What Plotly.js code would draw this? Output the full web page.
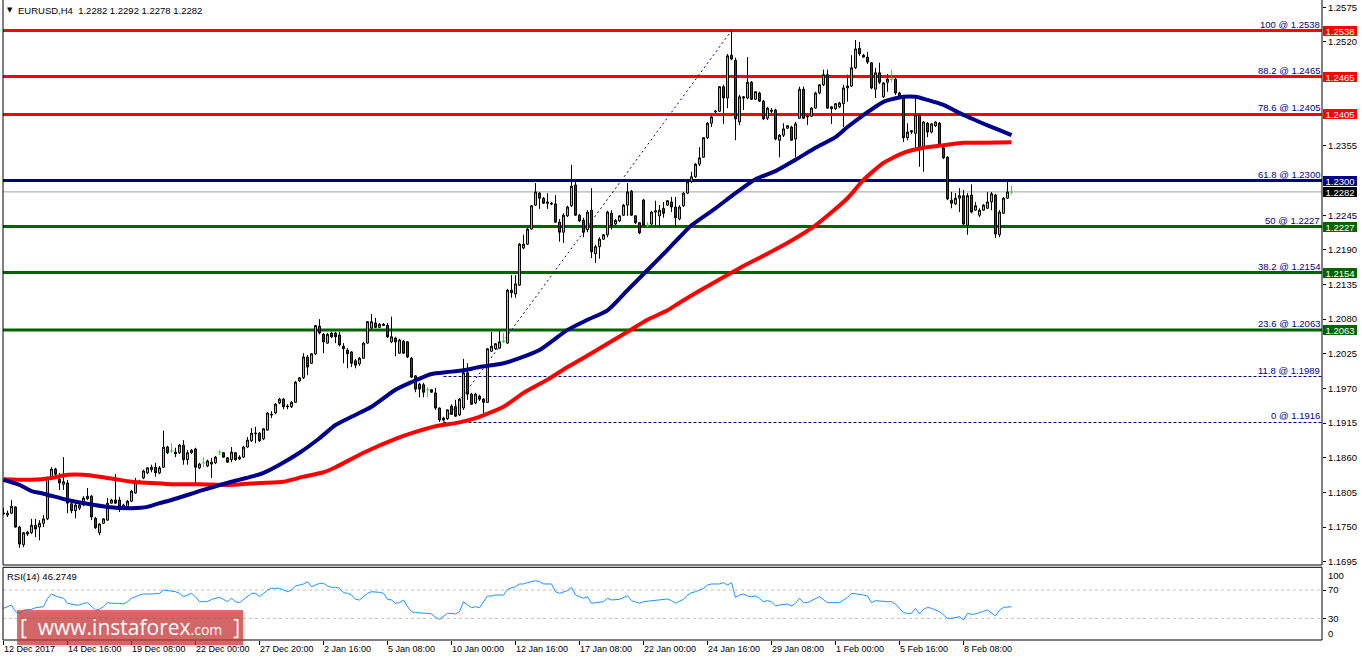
<!DOCTYPE html>
<html><head><meta charset="utf-8">
<script src="https://cdn.plot.ly/plotly-3.0.1.min.js"></script>
<style>html,body{margin:0;padding:0;background:#fff;}#chart{width:1362px;height:661px;}</style>
</head><body><div id="chart"></div>
<script>
// ---------- DATA ----------
const symbolTitle = "EURUSD,H4\u00a0\u00a01.2282 1.2292 1.2278 1.2282";
const rsiTitle = "RSI(14) 46.2749";
const xTickBars = [0,16,32,48,64,80,96,112,128,144,160,176,192,208,224,240];
const xTickLabels = ["12 Dec 2017","14 Dec 16:00","19 Dec 08:00","22 Dec 00:00","27 Dec 20:00","2 Jan 16:00","5 Jan 08:00","10 Jan 00:00","12 Jan 16:00","17 Jan 08:00","22 Jan 00:00","24 Jan 16:00","29 Jan 08:00","1 Feb 00:00","5 Feb 16:00","8 Feb 08:00"];
const priceTicks = [1.2575,1.2520,1.2355,1.2245,1.2190,1.2135,1.2080,1.2025,1.1970,1.1915,1.1860,1.1805,1.1750,1.1695];

const openP = [1.1771,1.1769,1.1772,1.1782,1.1750,1.1722,1.1739,1.1741,1.1753,1.1750,
1.1756,1.1763,1.1830,1.1842,1.1826,1.1818,1.1820,1.1787,1.1776,1.1780,
1.1785,1.1795,1.1799,1.1764,1.1741,1.1756,1.1761,1.1788,1.1793,1.1793,
1.1780,1.1782,1.1791,1.1804,1.1820,1.1828,1.1836,1.1841,1.1845,1.1836,
1.1845,1.1877,1.1871,1.1869,1.1868,1.1880,1.1857,1.1868,1.1874,1.1844,
1.1852,1.1847,1.1850,1.1852,1.1869,1.1868,1.1860,1.1857,1.1868,1.1858,
1.1861,1.1877,1.1887,1.1898,1.1899,1.1890,1.1904,1.1929,1.1931,1.1947,
1.1953,1.1941,1.1941,1.1948,1.1982,1.1987,1.2020,1.2010,1.2025,1.2069,
1.2056,1.2042,1.2058,1.2058,1.2055,1.2037,1.2031,1.2028,1.2014,1.2009,
1.2018,1.2042,1.2066,1.2074,1.2067,1.2072,1.2070,1.2044,1.2050,1.2026,
1.2045,1.2044,1.2018,1.1990,1.1977,1.1976,1.1968,1.1968,1.1963,1.1939,
1.1923,1.1922,1.1942,1.1941,1.1928,1.1939,1.1995,1.1961,1.1947,1.1958,
1.1953,1.1948,1.2029,1.2033,1.2034,1.2045,1.2042,1.2126,1.2120,1.2134,
1.2193,1.2199,1.2223,1.2261,1.2280,1.2272,1.2266,1.2264,1.2263,1.2234,
1.2218,1.2244,1.2260,1.2293,1.2245,1.2237,1.2222,1.2253,1.2184,1.2195,
1.2207,1.2214,1.2248,1.2231,1.2236,1.2245,1.2261,1.2283,1.2244,1.2233,
1.2269,1.2229,1.2231,1.2250,1.2244,1.2256,1.2261,1.2266,1.2258,1.2239,
1.2260,1.2280,1.2298,1.2306,1.2326,1.2337,1.2368,1.2391,1.2409,1.2410,
1.2449,1.2431,1.2499,1.2491,1.2393,1.2433,1.2431,1.2456,1.2429,1.2439,
1.2426,1.2399,1.2412,1.2412,1.2364,1.2372,1.2383,1.2385,1.2366,1.2399,
1.2445,1.2401,1.2402,1.2415,1.2439,1.2452,1.2468,1.2417,1.2414,1.2417,
1.2422,1.2447,1.2450,1.2479,1.2510,1.2499,1.2496,1.2487,1.2445,1.2471,
1.2433,1.2456,1.2461,1.2461,1.2439,1.2431,1.2368,1.2377,1.2375,1.2404,
1.2352,1.2391,1.2377,1.2387,1.2391,1.2352,1.2337,1.2269,1.2263,1.2272,
1.2276,1.2229,1.2277,1.2253,1.2245,1.2253,1.2256,1.2266,1.2277,1.2214,
1.2248,1.2272,1.2282];
const highP = [1.1780,1.1776,1.1793,1.1783,1.1752,1.1742,1.1744,1.1763,1.1763,1.1761,
1.1769,1.1830,1.1845,1.1844,1.1836,1.1861,1.1825,1.1788,1.1788,1.1788,
1.1799,1.1812,1.1801,1.1766,1.1756,1.1764,1.1796,1.1795,1.1834,1.1798,
1.1787,1.1793,1.1809,1.1828,1.1825,1.1841,1.1845,1.1849,1.1852,1.1847,
1.1903,1.1879,1.1883,1.1876,1.1882,1.1888,1.1872,1.1874,1.1876,1.1852,
1.1861,1.1857,1.1860,1.1863,1.1872,1.1869,1.1861,1.1877,1.1869,1.1864,
1.1879,1.1893,1.1907,1.1909,1.1901,1.1907,1.1933,1.1934,1.1947,1.1955,
1.1955,1.1945,1.1950,1.1982,1.1988,1.2026,1.2023,1.2026,1.2071,1.2080,
1.2058,1.2058,1.2060,1.2060,1.2060,1.2042,1.2034,1.2029,1.2017,1.2020,
1.2044,1.2077,1.2088,1.2082,1.2074,1.2074,1.2074,1.2084,1.2052,1.2049,
1.2047,1.2045,1.2020,1.1991,1.1979,1.1979,1.1972,1.1969,1.1971,1.1940,
1.1925,1.1937,1.1945,1.1952,1.1955,1.2017,1.2010,1.1963,1.1963,1.1960,
1.1955,1.2034,1.2060,1.2042,1.2061,1.2058,1.2128,1.2150,1.2150,1.2201,
1.2214,1.2225,1.2261,1.2296,1.2282,1.2274,1.2280,1.2266,1.2277,1.2239,
1.2248,1.2260,1.2325,1.2298,1.2247,1.2241,1.2253,1.2288,1.2198,1.2210,
1.2215,1.2252,1.2253,1.2239,1.2245,1.2263,1.2296,1.2285,1.2245,1.2234,
1.2271,1.2234,1.2252,1.2268,1.2261,1.2266,1.2269,1.2274,1.2274,1.2261,
1.2282,1.2299,1.2314,1.2328,1.2353,1.2369,1.2393,1.2406,1.2412,1.2450,
1.2452,1.2501,1.2538,1.2495,1.2436,1.2434,1.2496,1.2458,1.2442,1.2441,
1.2428,1.2417,1.2415,1.2414,1.2374,1.2391,1.2388,1.2387,1.2393,1.2449,
1.2449,1.2406,1.2417,1.2441,1.2453,1.2476,1.2476,1.2418,1.2423,1.2425,
1.2452,1.2468,1.2499,1.2523,1.2520,1.2501,1.2504,1.2488,1.2479,1.2487,
1.2456,1.2469,1.2476,1.2463,1.2441,1.2433,1.2391,1.2380,1.2431,1.2407,
1.2394,1.2393,1.2391,1.2394,1.2393,1.2353,1.2339,1.2282,1.2280,1.2288,
1.2285,1.2280,1.2294,1.2266,1.2256,1.2263,1.2282,1.2282,1.2279,1.2253,
1.2274,1.2298,1.2292];
const lowP = [1.1769,1.1766,1.1771,1.1749,1.1717,1.1718,1.1736,1.1739,1.1734,1.1729,
1.1750,1.1761,1.1828,1.1831,1.1809,1.1809,1.1772,1.1772,1.1764,1.1777,
1.1783,1.1793,1.1761,1.1747,1.1737,1.1755,1.1760,1.1787,1.1787,1.1774,
1.1779,1.1780,1.1790,1.1803,1.1818,1.1826,1.1834,1.1837,1.1830,1.1834,
1.1844,1.1866,1.1868,1.1861,1.1866,1.1849,1.1849,1.1866,1.1820,1.1842,
1.1845,1.1845,1.1828,1.1850,1.1864,1.1860,1.1852,1.1853,1.1855,1.1857,
1.1860,1.1876,1.1885,1.1883,1.1885,1.1888,1.1903,1.1923,1.1929,1.1945,
1.1937,1.1937,1.1939,1.1947,1.1980,1.1985,1.1991,1.2009,1.2023,1.2056,
1.2026,1.2041,1.2050,1.2042,1.2037,1.2010,1.2002,1.2004,1.2002,1.2006,
1.2017,1.2041,1.2064,1.2066,1.2066,1.2069,1.2050,1.2042,1.2021,1.2025,
1.2025,1.2018,1.1987,1.1964,1.1956,1.1956,1.1956,1.1963,1.1936,1.1917,
1.1918,1.1920,1.1928,1.1925,1.1926,1.1936,1.1952,1.1944,1.1945,1.1950,
1.1931,1.1947,1.2028,1.2031,1.2033,1.2042,1.2041,1.2114,1.2114,1.2133,
1.2191,1.2198,1.2222,1.2260,1.2255,1.2263,1.2255,1.2261,1.2233,1.2203,
1.2201,1.2242,1.2258,1.2244,1.2234,1.2210,1.2218,1.2177,1.2169,1.2176,
1.2206,1.2210,1.2222,1.2229,1.2234,1.2244,1.2244,1.2244,1.2231,1.2215,
1.2228,1.2226,1.2229,1.2229,1.2225,1.2241,1.2260,1.2250,1.2225,1.2237,
1.2258,1.2279,1.2296,1.2304,1.2323,1.2336,1.2366,1.2385,1.2407,1.2409,
1.2390,1.2415,1.2491,1.2364,1.2388,1.2412,1.2429,1.2428,1.2428,1.2425,
1.2396,1.2396,1.2407,1.2364,1.2337,1.2369,1.2382,1.2363,1.2337,1.2398,
1.2398,1.2388,1.2401,1.2414,1.2437,1.2450,1.2414,1.2390,1.2412,1.2415,
1.2385,1.2425,1.2449,1.2477,1.2498,1.2495,1.2485,1.2445,1.2431,1.2453,
1.2431,1.2441,1.2456,1.2436,1.2433,1.2361,1.2364,1.2374,1.2352,1.2322,
1.2314,1.2369,1.2375,1.2385,1.2355,1.2334,1.2269,1.2256,1.2261,1.2250,
1.2229,1.2214,1.2248,1.2252,1.2242,1.2252,1.2255,1.2253,1.2209,1.2210,
1.2247,1.2271,1.2278];
const closeP = [1.1772,1.1772,1.1783,1.1750,1.1723,1.1741,1.1742,1.1753,1.1747,1.1756,
1.1763,1.1828,1.1842,1.1834,1.1820,1.1822,1.1788,1.1776,1.1785,1.1785,
1.1796,1.1799,1.1766,1.1749,1.1755,1.1763,1.1788,1.1793,1.1788,1.1782,
1.1785,1.1791,1.1807,1.1822,1.1823,1.1839,1.1844,1.1845,1.1836,1.1844,
1.1877,1.1868,1.1871,1.1866,1.1880,1.1857,1.1868,1.1872,1.1845,1.1850,
1.1852,1.1855,1.1853,1.1861,1.1869,1.1861,1.1853,1.1869,1.1857,1.1861,
1.1877,1.1888,1.1899,1.1899,1.1887,1.1906,1.1931,1.1928,1.1945,1.1953,
1.1941,1.1942,1.1948,1.1980,1.1987,1.2020,1.2004,1.2025,1.2070,1.2058,
1.2044,1.2056,1.2052,1.2052,1.2039,1.2033,1.2025,1.2010,1.2007,1.2018,
1.2042,1.2076,1.2076,1.2067,1.2072,1.2070,1.2052,1.2052,1.2044,1.2047,
1.2026,1.2020,1.1988,1.1969,1.1969,1.1964,1.1968,1.1964,1.1939,1.1920,
1.1920,1.1936,1.1929,1.1926,1.1953,1.1995,1.1961,1.1945,1.1961,1.1953,
1.1948,1.2033,1.2037,1.2041,1.2044,1.2045,1.2126,1.2122,1.2136,1.2199,
1.2199,1.2223,1.2260,1.2282,1.2272,1.2264,1.2264,1.2263,1.2234,1.2218,
1.2245,1.2258,1.2291,1.2245,1.2236,1.2218,1.2250,1.2187,1.2195,1.2207,
1.2214,1.2250,1.2228,1.2237,1.2244,1.2261,1.2282,1.2245,1.2233,1.2217,
1.2229,1.2229,1.2250,1.2252,1.2253,1.2248,1.2268,1.2258,1.2241,1.2258,
1.2280,1.2298,1.2306,1.2326,1.2336,1.2368,1.2391,1.2401,1.2410,1.2449,
1.2431,1.2498,1.2493,1.2398,1.2433,1.2431,1.2456,1.2429,1.2441,1.2426,
1.2398,1.2415,1.2410,1.2366,1.2372,1.2382,1.2387,1.2364,1.2390,1.2445,
1.2399,1.2402,1.2415,1.2439,1.2452,1.2468,1.2415,1.2414,1.2422,1.2423,
1.2447,1.2450,1.2479,1.2509,1.2501,1.2496,1.2488,1.2447,1.2471,1.2456,
1.2455,1.2461,1.2461,1.2439,1.2434,1.2368,1.2377,1.2379,1.2404,1.2352,
1.2393,1.2377,1.2390,1.2393,1.2356,1.2336,1.2271,1.2264,1.2272,1.2276,
1.2231,1.2276,1.2250,1.2260,1.2253,1.2261,1.2266,1.2279,1.2215,1.2250,
1.2272,1.2282,1.2282];

// moving averages at sample bars
const maBlueBar = [0,4,7,10,16,21,26,32,36,39,42,50,57,62,65,69,74,79,83,87,92,98,102,107,111,115,119,125,129,134,141,146,151,156,161,166,169,172,178,183,188,193,198,203,208,211,215,220,225,228,231,235,240,244,249,252];
const maBlueVal = [1.1825,1.1817,1.1807,1.1803,1.1793,1.1787,1.1782,1.1780,1.1782,1.1788,1.1793,1.1809,1.1822,1.1830,1.1836,1.1849,1.1868,1.1891,1.1912,1.1925,1.1941,1.1968,1.1980,1.1993,1.1996,1.1999,1.2004,1.2010,1.2018,1.2031,1.2063,1.2079,1.2094,1.2126,1.2158,1.2190,1.2210,1.2229,1.2256,1.2280,1.2302,1.2315,1.2333,1.2352,1.2369,1.2385,1.2404,1.2425,1.2433,1.2433,1.2428,1.2420,1.2404,1.2393,1.2380,1.2372];
const maRedBar = [0,7,12,16,20,24,28,32,37,42,49,57,64,70,75,80,83,90,98,103,108,113,118,125,130,136,141,147,156,161,166,169,174,184,194,203,211,215,220,225,230,235,240,245,252];
const maRedVal = [1.1826,1.1825,1.1828,1.1833,1.1833,1.1830,1.1826,1.1822,1.1820,1.1818,1.1818,1.1817,1.1820,1.1822,1.1830,1.1837,1.1845,1.1868,1.1890,1.1901,1.1910,1.1915,1.1923,1.1941,1.1963,1.1984,1.2004,1.2026,1.2060,1.2079,1.2094,1.2106,1.2125,1.2161,1.2194,1.2229,1.2272,1.2301,1.2328,1.2344,1.2352,1.2356,1.2360,1.2360,1.2361];

// RSI(14) read at sample bars
const rsiBar = [0,1,2,3,4,5,7,8,10,11,12,13,14,15,16,18,19,20,21,22,23,24,25,26,27,29,30,31,32,34,35,37,38,39,40,41,42,43,44,45,46,47,48,49,50,51,52,54,55,56,57,58,59,60,61,62,63,64,65,66,67,69,70,71,72,73,74,75,76,77,78,79,80,81,82,83,84,85,86,87,88,89,90,91,92,93,94,95,96,97,98,99,100,101,102,103,105,106,107,108,109,110,111,112,113,114,115,116,117,118,119,121,122,123,125,126,127,128,129,130,131,133,134,135,137,138,139,140,141,142,143,144,145,146,147,148,150,151,152,154,156,157,159,160,162,163,165,166,167,168,170,171,172,173,175,176,177,179,180,181,182,183,184,185,186,187,188,189,190,191,192,193,194,196,197,198,199,200,201,202,204,206,207,209,210,211,212,214,215,216,217,218,220,221,222,223,224,225,226,227,228,229,230,231,232,233,234,235,236,237,238,239,240,241,242,243,244,245,246,248,249,250,251,252];
const rsiVal = [44.1,46.4,48.8,39.4,37.0,41.7,42.7,45.0,46.4,58.2,64.3,61.5,59.6,58.2,51.2,48.8,48.8,51.2,52.1,46.4,41.7,42.7,46.4,52.1,51.2,51.2,50.2,53.5,58.2,62.9,64.3,64.3,64.3,65.3,70.0,69.1,67.6,67.6,65.3,60.6,62.9,65.3,60.6,53.5,53.5,53.5,56.8,59.6,56.8,53.5,58.2,53.5,52.1,56.8,60.6,65.3,65.3,60.6,65.3,70.0,72.4,72.4,70.0,67.6,70.0,75.7,77.1,78.5,81.8,74.7,77.1,79.4,79.4,75.7,73.8,73.8,72.4,66.2,65.3,62.9,56.8,55.9,60.6,65.3,67.6,67.6,66.7,65.3,56.8,55.9,51.2,52.1,55.9,46.4,39.4,38.0,38.0,37.0,36.1,31.4,28.5,32.3,37.0,37.0,36.1,39.4,53.5,48.8,45.0,46.4,45.0,61.5,61.5,62.9,62.9,70.9,72.4,74.7,78.5,78.5,80.4,83.2,81.8,78.5,78.5,67.6,65.3,67.6,69.1,73.8,62.9,60.6,58.2,60.6,51.2,52.1,53.5,58.2,55.9,56.8,62.0,54.9,51.2,53.5,54.9,54.9,56.8,57.3,54.9,51.2,56.8,62.9,66.2,67.6,72.4,77.1,78.5,78.5,80.4,77.1,80.4,59.6,62.9,64.3,61.5,60.6,61.5,58.2,53.5,54.9,53.5,47.4,48.8,50.2,47.4,51.2,58.2,52.1,52.1,54.9,60.6,52.1,52.1,52.1,55.9,59.6,65.3,64.3,62.9,61.5,52.1,54.9,53.5,53.5,53.5,50.2,44.1,38.0,37.0,37.0,44.1,36.1,42.7,45.5,44.1,41.7,39.4,34.7,30.0,30.0,31.4,32.3,27.6,37.0,35.6,36.1,38.0,39.4,41.7,33.3,41.7,45.5,45.5,46.27];
const rsiLevels = [70, 30];

// Fibonacci retracement (anchor bars and levels)
const fibLowBar = 110, fibHighBar = 182;
const fibPct   = [100, 88.2, 78.6, 61.8, 50, 38.2, 23.6, 11.8, 0];
const fibPrice = [1.2538, 1.2465, 1.2405, 1.2300, 1.2227, 1.2154, 1.2063, 1.1989, 1.1916];
const fibLineColor = ["#ff0000","#ff0000","#ff0000","#000080","#006400","#006400","#006400",null,null];
const lastPrice = 1.2282;

// ---------- BUILD ----------
const bars = openP.map((_, i) => i);
const norm = bars.filter(i => openP[i] !== closeP[i]);
const doji = bars.filter(i => openP[i] === closeP[i]);
const pick = (arr, idx) => idx.map(i => arr[i]);

const FONT = "Liberation Sans, Arial, sans-serif";
const traces = [
  {type:'candlestick', x: norm, open: pick(openP,norm), high: pick(highP,norm), low: pick(lowP,norm), close: pick(closeP,norm),
   increasing:{fillcolor:'#96e63c', line:{color:'#000000', width:1}},
   decreasing:{fillcolor:'#dd0000', line:{color:'#000000', width:1}},
   whiskerwidth:0, hoverinfo:'skip', xaxis:'x', yaxis:'y'},
  {type:'candlestick', x: doji, open: pick(openP,doji), high: pick(highP,doji), low: pick(lowP,doji), close: pick(closeP,doji),
   increasing:{fillcolor:'#00ff00', line:{color:'#00ff00', width:1}},
   decreasing:{fillcolor:'#00ff00', line:{color:'#00ff00', width:1}},
   whiskerwidth:0, hoverinfo:'skip', xaxis:'x', yaxis:'y'},
  {type:'scatter', mode:'lines', x: maRedBar, y: maRedVal, line:{color:'#ff0000', width:4, shape:'spline', smoothing:0.6}, hoverinfo:'skip', xaxis:'x', yaxis:'y'},
  {type:'scatter', mode:'lines', x: maBlueBar, y: maBlueVal, line:{color:'#00008b', width:4, shape:'spline', smoothing:0.6}, hoverinfo:'skip', xaxis:'x', yaxis:'y'},
  {type:'scatter', mode:'lines', x: rsiBar, y: rsiVal, line:{color:'#1e90ff', width:1}, hoverinfo:'skip', xaxis:'x', yaxis:'y2'}
];

const W = 1362, H = 661, ML = 3, MR = 40, MT = 0, MB = 21;
const PW = W - ML - MR, PH = H - MT - MB;
const px2paperX = p => (p - ML) / PW;
const px2paperY = p => (H - MB - p) / PH;
const mainBottom = px2paperY(565), rsiTop = px2paperY(567.3);

const shapes = [];
const annotations = [];
// dashed fib lines (only where no solid level line covers them)
fibPrice.forEach((p, k) => {
  if (fibLineColor[k]) return;
  shapes.push({type:'line', xref:'x', yref:'y', x0: fibLowBar, x1: 400, y0: p, y1: p, line:{color:'#000080', width:1, dash:'3px,2px'}, layer:'below'});
});
// fib diagonal
shapes.push({type:'line', xref:'x', yref:'y', x0: fibLowBar, x1: fibHighBar, y0: fibPrice[8], y1: fibPrice[0], line:{color:'#000080', width:1, dash:'2px,3px'}, layer:'below'});
// solid horizontal level lines
fibPrice.forEach((p, k) => {
  if (!fibLineColor[k]) return;
  shapes.push({type:'line', xref:'paper', yref:'y', x0: 0, x1: 1, y0: p, y1: p, line:{color: fibLineColor[k], width:3}, layer:'below'});
});
// current price line
shapes.push({type:'line', xref:'paper', yref:'y', x0:0, x1:1, y0:lastPrice, y1:lastPrice, line:{color:'#a0a0a0', width:1}, layer:'below'});
// RSI levels
rsiLevels.forEach(v => shapes.push({type:'line', xref:'paper', yref:'y2', x0:0, x1:1, y0:v, y1:v, line:{color:'#c0c0c0', width:1, dash:'3px,3px'}, layer:'below'}));
// panel borders
const B = {color:'#000000', width:1};
shapes.push({type:'line', xref:'paper', yref:'paper', x0:0, x1:0, y0:mainBottom, y1:1, line:B});
shapes.push({type:'line', xref:'paper', yref:'paper', x0:1, x1:1, y0:mainBottom, y1:1, line:B});
shapes.push({type:'line', xref:'paper', yref:'paper', x0:0, x1:1, y0:mainBottom, y1:mainBottom, line:B});
shapes.push({type:'rect', xref:'paper', yref:'paper', x0:0, x1:1, y0:0, y1:rsiTop, line:B});

// fib labels
fibPrice.forEach((p, k) => {
  annotations.push({xref:'paper', yref:'y', x: px2paperX(1321), y: p, xanchor:'right', yanchor:'bottom', showarrow:false,
    text: fibPct[k] + ' @ ' + p.toFixed(4), font:{family:FONT, size:9.5, color:'#000080'}, borderpad:0});
});
// price boxes
const boxes = [];
fibPrice.forEach((p, k) => { if (fibLineColor[k]) boxes.push([p, fibLineColor[k]]); });
boxes.push([lastPrice, '#000000']);
boxes.forEach(([p, c]) => {
  annotations.push({xref:'paper', yref:'y', x: px2paperX(1323), y: p, xanchor:'left', yanchor:'middle', showarrow:false,
    text: p.toFixed(4), bgcolor: c, font:{family:FONT, size:9.5, color:'#ffffff'}, width:32, height:8, align:'center', borderpad:1, borderwidth:0});
});
// titles
annotations.push({xref:'paper', yref:'paper', x: px2paperX(5), y: px2paperY(9.5), xanchor:'left', yanchor:'middle', showarrow:false, text:'\u25BC', font:{family:'DejaVu Sans', size:7, color:'#000'}});
annotations.push({xref:'paper', yref:'paper', x: px2paperX(16), y: px2paperY(10), xanchor:'left', yanchor:'middle', showarrow:false, text: symbolTitle, font:{family:FONT, size:9.5, color:'#000'}});
annotations.push({xref:'paper', yref:'paper', x: px2paperX(5), y: px2paperY(576), xanchor:'left', yanchor:'middle', showarrow:false, text: rsiTitle, font:{family:FONT, size:9.5, color:'#000'}});
annotations.push({xref:'paper', yref:'paper', x: px2paperX(1326), y: px2paperY(575), xanchor:'left', yanchor:'middle', showarrow:false, text:'100', font:{family:FONT, size:9.5, color:'#000'}});
annotations.push({xref:'paper', yref:'paper', x: px2paperX(1326), y: px2paperY(633), xanchor:'left', yanchor:'middle', showarrow:false, text:'0', font:{family:FONT, size:9.5, color:'#000'}});

// watermark
shapes.push({type:'rect', xref:'paper', yref:'paper', x0: px2paperX(19), x1: px2paperX(245), y0: px2paperY(647), y1: px2paperY(612), fillcolor:'rgba(0,0,0,0.12)', line:{width:0}, layer:'above'});
shapes.push({type:'rect', xref:'paper', yref:'paper', x0: px2paperX(17), x1: px2paperX(243), y0: px2paperY(645), y1: px2paperY(610), fillcolor:'rgba(205,55,55,0.72)', line:{width:0}, layer:'above'});
annotations.push({xref:'paper', yref:'paper', x: px2paperX(130), y: px2paperY(627), xanchor:'center', yanchor:'middle', showarrow:false,
  text:"[\u00a0\u00a0www.instaforex<span style='font-size:14px'>.com</span>\u00a0\u00a0]", font:{family:'Open Sans, sans-serif', size:21, color:'#ffffff'}});

const layout = {
  width: W, height: H, margin:{l:ML, r:MR, t:MT, b:MB, pad:0},
  paper_bgcolor:'#ffffff', plot_bgcolor:'#ffffff', showlegend:false, hovermode:false, dragmode:false,
  xaxis:{anchor:'y2', range:[-0.125, 329.625], rangeslider:{visible:false}, showgrid:false, zeroline:false, showline:false,
    tickmode:'array', tickvals:xTickBars, ticktext:xTickLabels, ticks:'outside', ticklen:4, tickcolor:'#000',
    ticklabelposition:'outside right', tickfont:{family:FONT, size:9, color:'#000'}, automargin:false, fixedrange:true},
  yaxis:{domain:[mainBottom, 1], range:[1.16898, 1.25866], side:'right', anchor:'x', showgrid:false, zeroline:false, showline:false,
    tickmode:'array', tickvals:priceTicks, ticktext: priceTicks.map(v => v.toFixed(4)), ticks:'outside', ticklen:3, tickcolor:'#000',
    tickfont:{family:FONT, size:9.5, color:'#000'}, automargin:false, fixedrange:true},
  yaxis2:{domain:[0, rsiTop], range:[-0.67, 102.08], side:'right', anchor:'x', showgrid:false, zeroline:false, showline:false,
    tickmode:'array', tickvals:rsiLevels, ticktext: rsiLevels.map(String), ticks:'outside', ticklen:3, tickcolor:'#000',
    tickfont:{family:FONT, size:9.5, color:'#000'}, automargin:false, fixedrange:true},
  shapes: shapes, annotations: annotations
};
Plotly.newPlot('chart', traces, layout, {displayModeBar:false, staticPlot:true});
</script></body></html>
